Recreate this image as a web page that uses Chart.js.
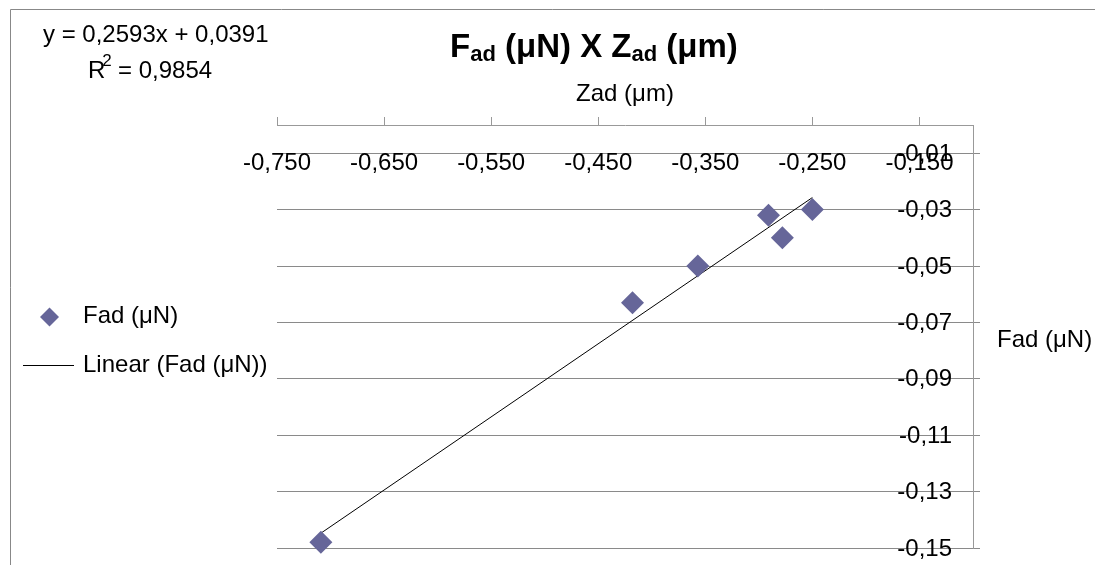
<!DOCTYPE html>
<html>
<head>
<meta charset="utf-8">
<script src="https://cdn.jsdelivr.net/npm/chart.js@4.4.1/dist/chart.umd.min.js"></script>
<style>
  html, body { margin: 0; padding: 0; background: #fff; }
  #wrap { width: 1095px; height: 565px; position: relative; }
</style>
</head>
<body>
<div id="wrap"><canvas id="chart"></canvas></div>
<script>
// values
const zadValues = [-0.709, -0.418, -0.357, -0.291, -0.278, -0.250];
const fadValues = [-0.148, -0.063, -0.050, -0.032, -0.040, -0.030];

const xTicks = [-0.75, -0.65, -0.55, -0.45, -0.35, -0.25, -0.15];
const xTickLabels = ['-0,750', '-0,650', '-0,550', '-0,450', '-0,350', '-0,250', '-0,150'];
const yTicks = [-0.15, -0.13, -0.11, -0.09, -0.07, -0.05, -0.03, -0.01];
const yTickLabels = ['-0,15', '-0,13', '-0,11', '-0,09', '-0,07', '-0,05', '-0,03', '-0,01'];

// trend line as printed on the chart
const trendSlope = 0.2593;
const trendIntercept = 0.0391;
const trendText = 'y = 0,2593x + 0,0391';
const r2Text = '0,9854';

const FONT = 'Arial, "Liberation Sans", sans-serif';
const MARKER = '#666699';

const points = zadValues.map((x, i) => ({ x: x, y: fadValues[i] }));
const xLo = Math.min(...zadValues);
const xHi = Math.max(...zadValues);
const trendPoints = [xLo, xHi].map(x => ({ x: x, y: trendSlope * x + trendIntercept }));

function font(size, bold) {
  return (bold ? 'bold ' : '') + size + 'px ' + FONT;
}

const extras = {
  id: 'extras',
  beforeDraw(chart) {
    const ctx = chart.ctx;
    ctx.save();
    ctx.strokeStyle = '#888';
    ctx.lineWidth = 1;
    ctx.beginPath();
    ctx.moveTo(10.5, 565);
    ctx.lineTo(10.5, 9.5);
    ctx.lineTo(1095, 9.5);
    ctx.stroke();
    ctx.restore();
  },
  afterDraw(chart) {
    const ctx = chart.ctx;
    const xs = chart.scales.x;
    const ys = chart.scales.y;
    ctx.save();
    ctx.fillStyle = '#000';

    // tick labels sit inside the plot (under the top axis, left of the right axis)
    ctx.font = font(24);
    ctx.textBaseline = 'middle';
    ctx.textAlign = 'center';
    xTicks.forEach((v, i) => {
      ctx.fillText(xTickLabels[i], xs.getPixelForValue(v), 163);
    });
    ctx.textAlign = 'right';
    yTicks.forEach((v, i) => {
      ctx.fillText(yTickLabels[i], ys.left - 21, ys.getPixelForValue(v) + 1);
    });

    // title with subscripts
    ctx.textAlign = 'left';
    ctx.textBaseline = 'alphabetic';
    let x = 450;
    const parts = [['F', false], ['ad', true], [' (μN) X ', false], ['Z', false], ['ad', true], [' (μm)', false]];
    parts.forEach(([t, sub]) => {
      ctx.font = font(sub ? 22 : 33, true);
      ctx.fillText(t, x, sub ? 61 : 57);
      x += ctx.measureText(t).width;
    });

    // trend equation
    ctx.font = font(24);
    ctx.textBaseline = 'middle';
    ctx.fillText(trendText, 43, 35);
    ctx.fillText('R', 88, 71);
    const rw = ctx.measureText('R').width;
    ctx.font = font(17);
    ctx.fillText('2', 88 + rw - 3, 61);
    ctx.font = font(24);
    ctx.fillText(' = ' + r2Text, 88 + rw + 6, 71);

    // right axis title, horizontal
    ctx.fillText('Fad (μN)', 997, 340);

    // legend
    const ds = chart.data.datasets;
    ctx.fillStyle = ds[0].backgroundColor;
    ctx.beginPath();
    ctx.moveTo(40, 317);
    ctx.lineTo(49.5, 307.5);
    ctx.lineTo(59, 317);
    ctx.lineTo(49.5, 326.5);
    ctx.closePath();
    ctx.fill();
    ctx.strokeStyle = ds[1].borderColor;
    ctx.lineWidth = 1;
    ctx.beginPath();
    ctx.moveTo(23, 365.5);
    ctx.lineTo(74, 365.5);
    ctx.stroke();
    ctx.fillStyle = '#000';
    ctx.fillText(ds[0].label, 83, 316);
    ctx.fillText(ds[1].label, 83, 365);

    ctx.restore();
  }
};

new Chart(document.getElementById('chart'), {
  type: 'scatter',
  data: {
    datasets: [{
      label: 'Fad (μN)',
      data: points,
      pointStyle: 'rectRot',
      pointRadius: 11.5,
      pointHoverRadius: 11.5,
      backgroundColor: MARKER,
      borderColor: MARKER,
      borderWidth: 0,
      clip: false
    }, {
      label: 'Linear (Fad (μN))',
      data: trendPoints,
      showLine: true,
      borderColor: '#000',
      borderWidth: 1,
      pointRadius: 0,
      clip: false
    }]
  },
  plugins: [extras],
  options: {
    responsive: true,
    maintainAspectRatio: false,
    animation: false,
    layout: { padding: { left: 277, top: 0, right: 0, bottom: 17 } },
    plugins: {
      legend: { display: false },
      tooltip: { enabled: false }
    },
    scales: {
      x: {
        type: 'linear',
        position: 'top',
        min: -0.75,
        max: -0.1,
        afterBuildTicks: s => { s.ticks = xTicks.map(v => ({ value: v })); },
        afterFit: s => { s.height = 125; s.paddingLeft = 0; s.paddingRight = 0; },
        ticks: { display: false },
        grid: { drawOnChartArea: false, drawTicks: true, tickLength: 8, color: '#999' },
        border: { display: true, color: '#999' },
        title: {
          display: true,
          text: 'Zad (μm)',
          color: '#000',
          font: { family: FONT, size: 24 },
          padding: { top: 80, bottom: 0 }
        }
      },
      y: {
        type: 'linear',
        position: 'right',
        min: -0.15,
        max: 0,
        afterBuildTicks: s => { s.ticks = yTicks.map(v => ({ value: v })); },
        afterFit: s => { s.width = 122; s.paddingTop = 0; s.paddingBottom = 0; },
        ticks: { display: false },
        grid: { color: '#8a8a8a', tickLength: 7, drawTicks: true },
        border: { display: true, color: '#999' }
      }
    }
  }
});
</script>
</body>
</html>
